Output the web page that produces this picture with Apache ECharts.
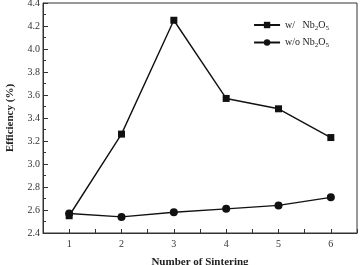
<!DOCTYPE html>
<html>
<head>
<meta charset="utf-8">
<script src="https://cdn.jsdelivr.net/npm/echarts@6/dist/echarts.min.js"></script>
<style>
  html, body { margin: 0; padding: 0; background: #fff; }
  #chart { width: 362px; height: 265px; }
</style>
</head>
<body>
<div id="chart"></div>
<script>
// number of sintering runs
var sinterCounts = [1, 2, 3, 4, 5, 6];
// efficiency (%) with and without Nb2O5
var effWith = [2.55, 3.26, 4.25, 3.57, 3.48, 3.23];
var effWithout = [2.57, 2.54, 2.58, 2.61, 2.64, 2.71];

var font = 'Liberation Serif';

function pairs(xs, ys) {
    return xs.map(function (x, i) { return [x, ys[i]]; });
}

var chart = echarts.init(document.getElementById('chart'));

var options = {
    animation: false,
    textStyle: { fontFamily: font, color: '#222' },
    grid: {
        left: 43, right: 5, top: 3, bottom: 32,
        outerBoundsMode: 'none',
        show: true, borderColor: '#333', borderWidth: 1
    },
    legend: {
        right: 28, top: 15,
        orient: 'vertical',
        itemWidth: 26, itemHeight: 8, itemGap: 6,
        textStyle: {
            fontFamily: font, fontSize: 10, color: '#222',
            rich: {
                t: { fontFamily: font, fontSize: 10, color: '#222' },
                s: { fontFamily: font, fontSize: 7, color: '#222', padding: [6, 0, 0, 0] }
            }
        },
        formatter: function (name) {
            if (name === 'with') return '{t|w/   Nb}{s|2}{t|O}{s|5}';
            return '{t|w/o Nb}{s|2}{t|O}{s|5}';
        },
        data: ['with', 'without']
    },
    xAxis: {
        type: 'value',
        min: 0.5, max: 6.5, interval: 0.5,
        name: 'Number of Sintering',
        nameLocation: 'middle',
        nameGap: 24,
        nameTextStyle: { fontFamily: font, fontSize: 11, fontWeight: 'bold', color: '#222' },
        axisLine: { lineStyle: { color: '#333' } },
        axisTick: { inside: true, length: 4, lineStyle: { color: '#333' } },
        axisLabel: {
            fontFamily: font, fontSize: 10, color: '#333', margin: 6,
            formatter: function (v) { return Number.isInteger(v) ? String(v) : ''; }
        },
        splitLine: { show: false }
    },
    yAxis: {
        type: 'value',
        min: 2.4, max: 4.4, interval: 0.2,
        name: 'Efficiency (%)',
        nameLocation: 'middle',
        nameGap: 27,
        nameTextStyle: { fontFamily: font, fontSize: 11, fontWeight: 'bold', color: '#222' },
        axisLine: { lineStyle: { color: '#333' } },
        axisTick: { inside: true, length: 5, lineStyle: { color: '#333' } },
        minorTick: { show: true, splitNumber: 2, length: 3, lineStyle: { color: '#333' } },
        axisLabel: {
            fontFamily: font, fontSize: 10, color: '#333', margin: 3,
            formatter: function (v) { return v.toFixed(1); }
        },
        splitLine: { show: false }
    },
    series: [
        {
            name: 'with',
            type: 'line',
            data: pairs(sinterCounts, effWith),
            symbol: 'rect', symbolSize: 7,
            lineStyle: { color: '#111', width: 1.4 },
            itemStyle: { color: '#111' }
        },
        {
            name: 'without',
            type: 'line',
            data: pairs(sinterCounts, effWithout),
            symbol: 'circle', symbolSize: 8,
            lineStyle: { color: '#111', width: 1.4 },
            itemStyle: { color: '#111' }
        }
    ]
};

chart.setOption(options);
</script>
</body>
</html>
